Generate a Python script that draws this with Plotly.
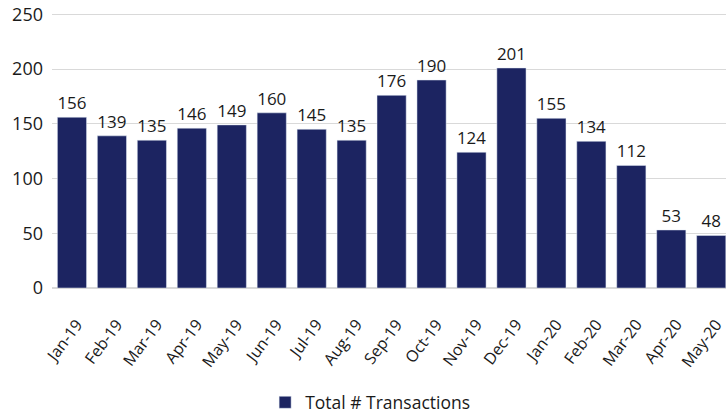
import plotly.graph_objects as go

months = ["Jan-19","Feb-19","Mar-19","Apr-19","May-19","Jun-19","Jul-19","Aug-19","Sep-19",
          "Oct-19","Nov-19","Dec-19","Jan-20","Feb-20","Mar-20","Apr-20","May-20"]
transactions = [156,139,135,146,149,160,145,135,176,190,124,201,155,134,112,53,48]
y_ticks = [0,50,100,150,200,250]

fig = go.Figure()
fig.add_trace(go.Bar(
    x=months, y=transactions, name="Total # Transactions",
    marker=dict(color="#1c2461"),
    text=transactions, textposition="outside", cliponaxis=False,
    textfont=dict(size=17, color="#1a1a1a"),
))
fig.update_layout(
    width=726, height=417,
    margin=dict(l=52, r=0, t=13, b=129),
    paper_bgcolor="white", plot_bgcolor="white",
    font=dict(family="Open Sans", size=15, color="#1a1a1a"),
    bargap=0.27,
    showlegend=True,
    legend=dict(orientation="h", x=0.472, xanchor="center",
                yref="container", y=0.035, yanchor="middle",
                font=dict(size=17.5)),
)
fig.update_xaxes(tickangle=-53, showgrid=False, showline=False, ticks="",
                 tickfont=dict(size=16), range=[-0.5, 16.37], automargin=False,
                 ticklabelstandoff=23, ticklabelshift=5)
fig.update_yaxes(range=[0, 251.2], tickvals=y_ticks, showgrid=True, gridcolor="#d9d9d9",
                 gridwidth=1, zeroline=True, zerolinecolor="#d9d9d9", ticks="",
                 tickfont=dict(size=18), automargin=False, ticklabelstandoff=8)
fig.write_html("out.html", config={"displayModeBar": False},
               post_script="document.body.style.margin='0';")
